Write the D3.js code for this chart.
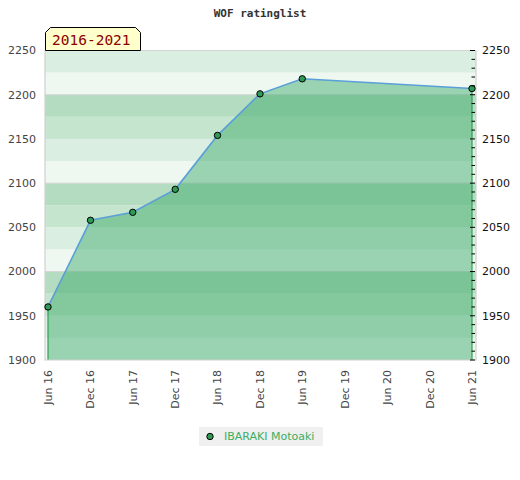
<!DOCTYPE html>
<html>
<head>
<meta charset="utf-8">
<script src="https://cdn.jsdelivr.net/npm/d3@7"></script>
<style>
  body { margin: 0; background: #fff; }
  svg { display: block; }
</style>
</head>
<body>
<svg id="chart" width="520" height="480"></svg>
<script>
// rating series
const dates = ["2016-06-01", "2016-12-01", "2017-06-01", "2017-12-01", "2018-06-01",
               "2018-12-01", "2019-06-01", "2021-06-01"];
const ratings = [1960, 2058, 2067, 2093, 2154, 2201, 2218, 2207];
const tickDates = ["2016-06-01", "2016-12-01", "2017-06-01", "2017-12-01", "2018-06-01",
                   "2018-12-01", "2019-06-01", "2019-12-01", "2020-06-01", "2020-12-01", "2021-06-01"];
const tickLabels = ["Jun 16", "Dec 16", "Jun 17", "Dec 17", "Jun 18", "Dec 18",
                    "Jun 19", "Dec 19", "Jun 20", "Dec 20", "Jun 21"];
const yTicks = [1900, 1950, 2000, 2050, 2100, 2150, 2200, 2250];
const playerName = "IBARAKI Motoaki";
const periodLabel = "2016-2021";
const chartTitle = "WOF ratinglist";

const parse = d3.timeParse("%Y-%m-%d");
const points = dates.map((d, i) => ({ date: parse(d), value: ratings[i] }));

const svg = d3.select("#chart");
const plotL = 45, plotR = 476, plotT = 50.5, plotB = 360;

const x = d3.scaleTime()
  .domain([parse(tickDates[0]), parse(tickDates[tickDates.length - 1])])
  .range([48, 472]);
const y = d3.scaleLinear().domain([1900, 2250]).range([plotB, plotT]);

// background bands (4 shades repeating every 100)
const bandColors = ["#b3dcc0", "#c5e5cf", "#dbeee2", "#eff7f1"];
const bands = d3.range(1900, 2250, 25);
svg.append("g")
  .selectAll("rect")
  .data(bands)
  .join("rect")
  .attr("x", plotL)
  .attr("width", plotR - plotL)
  .attr("y", d => y(d + 25))
  .attr("height", d => y(d) - y(d + 25))
  .attr("fill", d => bandColors[3 - ((d - 1900) / 25) % 4]);

// faint grid every 100
svg.append("g")
  .selectAll("line")
  .data([2000, 2100, 2200, 2250])
  .join("line")
  .attr("x1", plotL).attr("x2", plotR)
  .attr("y1", d => y(d)).attr("y2", d => y(d))
  .attr("stroke", "#d4d4d4")
  .attr("stroke-width", 1);

// area under the rating line
const area = d3.area()
  .x(d => x(d.date))
  .y0(y(1900))
  .y1(d => y(d.value));
svg.append("path")
  .datum(points)
  .attr("d", area)
  .attr("fill", "rgb(59,171,104)")
  .attr("fill-opacity", 0.47);

// green edges of the area
const first = points[0], last = points[points.length - 1];
svg.append("g")
  .selectAll("line")
  .data([first, last])
  .join("line")
  .attr("x1", d => x(d.date)).attr("x2", d => x(d.date))
  .attr("y1", d => y(d.value)).attr("y2", y(1900))
  .attr("stroke", "#2fa052")
  .attr("stroke-width", 1.2);

// plot border
svg.append("path")
  .attr("d", `M${plotL},${plotT}V${plotB}H${plotR}V${plotT}`)
  .attr("fill", "none")
  .attr("stroke", "#d0d0d0")
  .attr("stroke-width", 1.2);

// rating line
svg.append("path")
  .datum(points)
  .attr("d", d3.line().x(d => x(d.date)).y(d => y(d.value)))
  .attr("fill", "none")
  .attr("stroke", "#5a9fd8")
  .attr("stroke-width", 1.6);

// markers
svg.append("g")
  .selectAll("circle")
  .data(points)
  .join("circle")
  .attr("cx", d => x(d.date))
  .attr("cy", d => y(d.value))
  .attr("r", 3.2)
  .attr("fill", "#2f9a56")
  .attr("stroke", "#000")
  .attr("stroke-width", 1);

// left axis labels
svg.append("g")
  .selectAll("text")
  .data(yTicks)
  .join("text")
  .attr("x", 36)
  .attr("y", d => y(d))
  .attr("dy", "0.35em")
  .attr("text-anchor", "end")
  .attr("font-family", "DejaVu Sans")
  .attr("font-size", "11px")
  .attr("fill", "#444")
  .text(d => d);

// right axis: minor ticks every 10, major every 50
const minor = d3.range(1900, 2251, 10);
svg.append("g")
  .selectAll("line")
  .data(minor)
  .join("line")
  .attr("x1", d => d % 50 === 0 ? 470 : 471.5)
  .attr("x2", 475)
  .attr("y1", d => y(d)).attr("y2", d => y(d))
  .attr("stroke", "#000")
  .attr("stroke-width", 1);
svg.append("g")
  .selectAll("text")
  .data(yTicks)
  .join("text")
  .attr("x", 482)
  .attr("y", d => y(d))
  .attr("dy", "0.35em")
  .attr("font-family", "DejaVu Sans")
  .attr("font-size", "11px")
  .attr("fill", "#111")
  .text(d => d);

// x labels, rotated
svg.append("g")
  .selectAll("text")
  .data(tickDates)
  .join("text")
  .attr("transform", d => `translate(${x(parse(d))},370) rotate(-90)`)
  .attr("dy", "0.35em")
  .attr("text-anchor", "end")
  .attr("font-family", "DejaVu Sans")
  .attr("font-size", "11px")
  .attr("fill", "#444")
  .text((d, i) => tickLabels[i]);

// title
svg.append("text")
  .attr("x", 260)
  .attr("y", 17)
  .attr("text-anchor", "middle")
  .attr("font-family", "DejaVu Sans Mono")
  .attr("font-weight", "bold")
  .attr("font-size", "11px")
  .attr("fill", "#333")
  .text(chartTitle);

// period badge
svg.append("path")
  .attr("d", "M45.5,50.5V32.5L50.5,27.5H135.5L140.5,32.5V50.5Z")
  .attr("fill", "#ffffcc")
  .attr("stroke", "#000")
  .attr("stroke-width", 1);
svg.append("text")
  .attr("x", 52)
  .attr("y", 45)
  .attr("font-family", "DejaVu Sans Mono")
  .attr("font-size", "14.5px")
  .attr("fill", "#8b0000")
  .text(periodLabel);

// legend
const legend = svg.append("g");
legend.append("rect")
  .attr("x", 199).attr("y", 427)
  .attr("width", 124).attr("height", 19)
  .attr("fill", "#f0f0f0");
legend.append("circle")
  .attr("cx", 210).attr("cy", 436.5)
  .attr("r", 3.2)
  .attr("fill", "#2f9a56")
  .attr("stroke", "#000");
legend.append("text")
  .attr("x", 224).attr("y", 436.5)
  .attr("dy", "0.35em")
  .attr("font-family", "DejaVu Sans")
  .attr("font-size", "11px")
  .attr("fill", "#3cae62")
  .text(playerName);
</script>
</body>
</html>
